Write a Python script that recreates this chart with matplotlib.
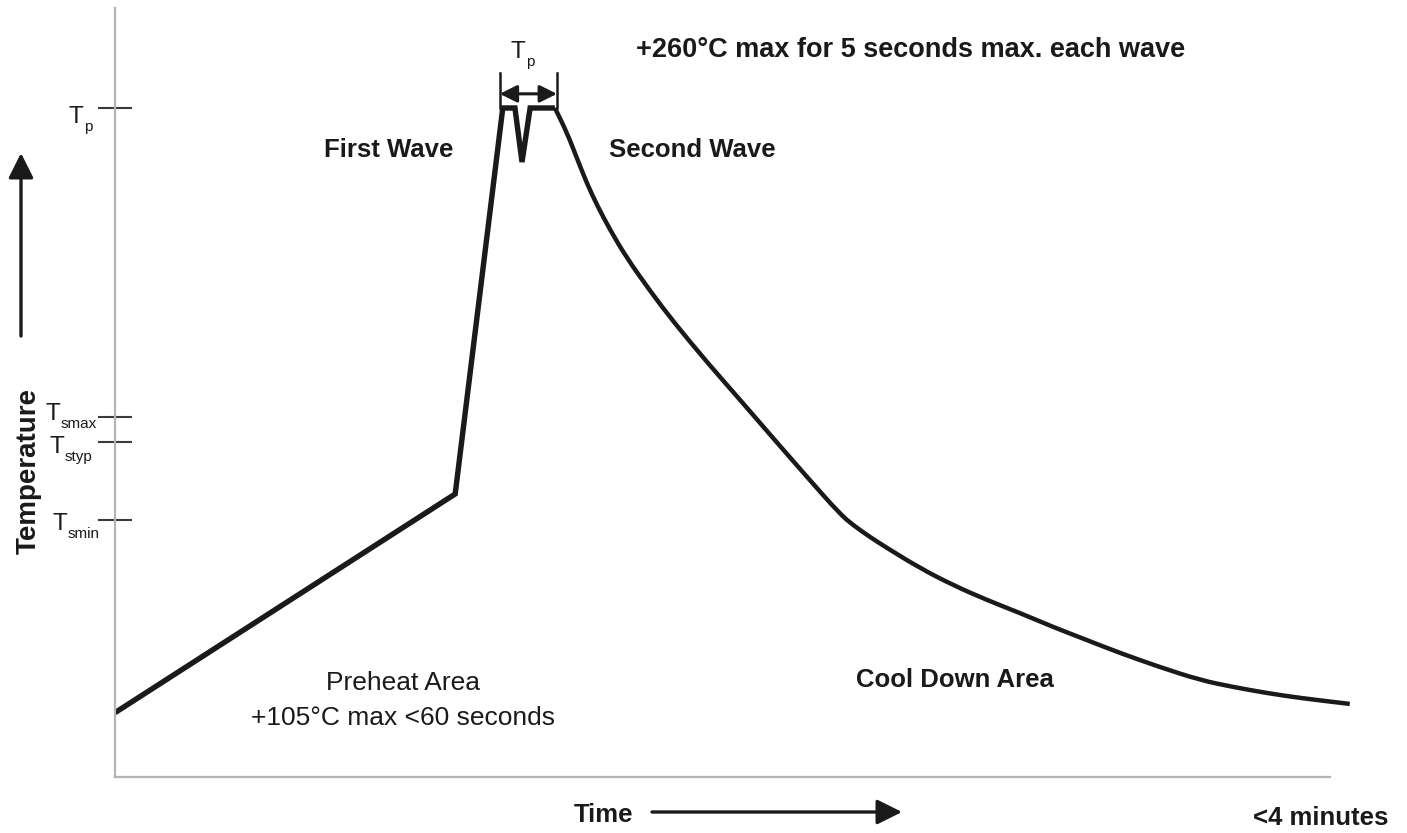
import numpy as np
import matplotlib
matplotlib.use("Agg")
import matplotlib.pyplot as plt
import matplotlib.transforms as mtransforms
from matplotlib.path import Path
from matplotlib.patches import PathPatch, FancyArrowPatch

plt.rcParams['font.family'] = ['Liberation Sans', 'DejaVu Sans']

# wave solder profile: time in s, temperature in degC
# rising part (preheat ramp, two wave peaks) - sharp corners
rise_time = [0, 67.2, 76.6, 79.0, 80.4, 82.0, 86.9]
rise_temp = [25, 110, 260, 260, 239, 260, 260]
# cool down part - smooth curve
cool_time = [86.9, 89.3, 91.3, 93.2, 95.2, 97.8, 101.1, 105.7, 110.2, 116.9,
             123.5, 130.0, 136.7, 143.2, 145.8, 149.1, 152.5, 159.0, 165.5,
             172.2, 178.8, 185.3, 192.0, 198.5, 206.4, 214.3, 220.8, 227.6,
             234.1, 243.9]
cool_temp = [260, 250.3, 240.2, 230.8, 222.3, 212.6, 201.7, 188.9, 177.2,
             161.3, 146.5, 131.7, 116.6, 102.2, 97.9, 93.3, 89.0, 81.2, 74.6,
             68.8, 63.7, 58.3, 53.2, 48.2, 42.7, 37.7, 35.0, 32.6, 30.7, 28.4]

tick_temps = [100, 130, 140, 260]
tick_subs = ['smin', 'styp', 'smax', 'p']
peak_window = [76.0, 87.3]
peak_temp = 260
time_max = 240

W, H = 1407, 833
fig = plt.figure(figsize=(W / 100, H / 100), dpi=100)
ax = fig.add_axes([115 / W, 56 / H, 1292 / W, 769 / H])
ax.set_xlim(0, 1292 / 5.0625)
ax.set_ylim(0, 769 / 2.5731)

ink = '#1a1a1a'
ax.plot(rise_time, rise_temp, color=ink, lw=3.9,
        solid_joinstyle='miter', solid_capstyle='butt')

# smooth cool-down curve: quadratic segments through the read points
pts = np.column_stack([cool_time, cool_temp])
mids = (pts[:-1] + pts[1:]) / 2
verts = [pts[0], mids[0]]
codes = [Path.MOVETO, Path.LINETO]
for i in range(1, len(pts) - 1):
    verts += [pts[i], mids[i]]
    codes += [Path.CURVE3, Path.CURVE3]
verts.append(pts[-1])
codes.append(Path.LINETO)
ax.add_patch(PathPatch(Path(verts, codes), fill=False, edgecolor=ink,
                       lw=3.2, capstyle='butt', joinstyle='round'))

for s in ['top', 'right']:
    ax.spines[s].set_visible(False)
for s in ['left', 'bottom']:
    ax.spines[s].set_color('#b4b4b4')
    ax.spines[s].set_linewidth(1.6)
ax.spines['bottom'].set_bounds(0, time_max)

ax.set_xticks([])
ax.set_yticks(tick_temps)
ax.set_yticklabels([])
ax.tick_params(axis='y', direction='inout', length=24, width=1.5,
               color='#3a3a3a')

renderer = fig.canvas.get_renderer()
blend = mtransforms.blended_transform_factory(mtransforms.IdentityTransform(),
                                              ax.transData)


def t_label(x_right, y, sub, drop):
    # "T" with a small subscript; x in pixels, y in data
    tr_sub = mtransforms.offset_copy(blend, fig=fig, y=-(drop + 8) * 0.72,
                                     units='points')
    s = ax.text(x_right, y, sub, fontsize=11, ha='right', va='baseline',
                transform=tr_sub, clip_on=False, color=ink)
    bb = s.get_window_extent(renderer)
    tr_t = mtransforms.offset_copy(blend, fig=fig, y=-drop * 0.72,
                                   units='points')
    ax.text(bb.x0 - 0.5, y, 'T', fontsize=17.5, ha='right', va='baseline',
            transform=tr_t, clip_on=False, color=ink)


label_right = [100, 92, 97, 92]
label_drop = [10, 11, 3, 15]
for t, sub, xr, dr in zip(tick_temps, tick_subs, label_right, label_drop):
    t_label(xr, t, sub, dr)

# Tp window bracket above the peak
for t in peak_window:
    ax.plot([t, t], [peak_temp, peak_temp + 13.5], color=ink, lw=1.8)
ax.annotate('', xy=(peak_window[0], peak_temp + 5.5),
            xytext=(peak_window[1], peak_temp + 5.5),
            arrowprops=dict(arrowstyle='<|-|>', color=ink, lw=2.2,
                            mutation_scale=26, shrinkA=0, shrinkB=0))
t_label(534, peak_temp + 19.5, 'p', 0)


def px(x, y):
    return x / W, 1 - y / H


bold = dict(fontweight='bold', fontsize=18.5, color=ink)
fig.text(*px(389, 150), 'First Wave', ha='center', va='center', **bold)
fig.text(*px(692, 150), 'Second Wave', ha='center', va='center', **bold)
fig.text(*px(911, 50), '+260°C max for 5 seconds max. each wave',
         ha='center', va='center', fontweight='bold', fontsize=19.5,
         color=ink)
fig.text(*px(955, 680), 'Cool Down Area', ha='center', va='center', **bold)
fig.text(*px(604, 815), 'Time', ha='center', va='center', **bold)
fig.text(*px(1321, 818), '<4 minutes', ha='center', va='center', **bold)
fig.text(*px(29, 471), 'Temperature', ha='center', va='center',
         rotation=90, fontweight='bold', fontsize=20, color=ink)
fig.text(*px(403, 683), 'Preheat Area', ha='center', va='center',
         fontsize=19, color=ink)
fig.text(*px(403, 718), '+105°C max <60 seconds', ha='center', va='center',
         fontsize=19, color=ink)

arrow = dict(arrowstyle='-|>', color=ink, lw=2.4, mutation_scale=38,
             shrinkA=0, shrinkB=0)
fig.add_artist(FancyArrowPatch(px(652, 812), px(902, 812),
                               transform=fig.transFigure, **arrow))
fig.add_artist(FancyArrowPatch(px(21, 336), px(21, 153),
                               transform=fig.transFigure, **arrow))

fig.savefig('out.png', dpi=100)
